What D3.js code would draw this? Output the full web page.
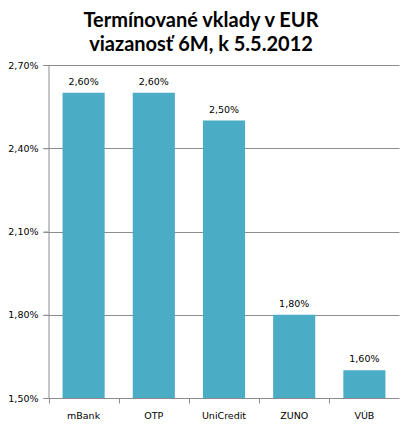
<!DOCTYPE html>
<html><head><meta charset="utf-8">
<script src="https://cdn.jsdelivr.net/npm/d3@7"></script>
<style>body{margin:0;background:#fff}svg{display:block}</style>
</head><body>
<script>
const categories = ["mBank", "OTP", "UniCredit", "ZUNO", "VÚB"];
const values = [2.60, 2.60, 2.50, 1.80, 1.60];
const yTicks = [1.50, 1.80, 2.10, 2.40, 2.70];
const titleLines = ["Termínované vklady v EUR", "viazanosť 6M, k 5.5.2012"];

const W = 400, H = 427;
const m = {left: 48.5, right: 0.5, top: 65, bottom: 29};
const svg = d3.select("body").append("svg").attr("width", W).attr("height", H);
const fmt = v => v.toFixed(2).replace(".", ",") + "%";

const x = d3.scaleBand().domain(categories).range([m.left, W - m.right]).paddingInner(0.4).paddingOuter(0.2);
const y = d3.scaleLinear().domain([1.5, 2.7]).range([H - m.bottom, m.top]);

svg.append("g").attr("font-family", "Lato, 'Open Sans', sans-serif").attr("font-weight", "bold")
  .attr("font-size", 20).attr("text-anchor", "middle")
  .selectAll("text").data(titleLines).join("text")
  .attr("x", 201).attr("y", (d, i) => 27 + i * 24).text(d => d);

// gridlines
svg.append("g").selectAll("line").data(yTicks.slice(1)).join("line")
  .attr("x1", m.left - 5).attr("x2", W - m.right)
  .attr("y1", d => Math.round(y(d)) + 0.5).attr("y2", d => Math.round(y(d)) + 0.5)
  .attr("stroke", "#8c8c8c").attr("stroke-width", 1);

// bars
svg.append("g").selectAll("rect").data(values).join("rect")
  .attr("x", (d, i) => x(categories[i])).attr("width", x.bandwidth())
  .attr("y", d => y(d)).attr("height", d => y(1.5) - y(d))
  .attr("fill", "#4bacc6");

// y axis
const ya = d3.axisLeft(y).tickValues(yTicks).tickFormat(fmt).tickSize(5).tickPadding(5);
const gy = svg.append("g").attr("transform", `translate(${m.left},0)`).call(ya);
gy.selectAll("line,path").attr("stroke", "#8c8c8c");
gy.selectAll("text").attr("font-family", "'DejaVu Sans', sans-serif").attr("font-size", 9.5).attr("fill", "#000");

// x axis
const ticksX = categories.map((c, i) => m.left + i * (W - m.right - m.left) / categories.length);
const gx = svg.append("g").attr("transform", `translate(0,${Math.round(y(1.5)) + 0.5})`);
gx.append("line").attr("x1", m.left).attr("x2", W - m.right).attr("stroke", "#8c8c8c");
gx.selectAll("line.t").data(ticksX.concat([W - m.right])).join("line").attr("class", "t")
  .attr("x1", d => Math.round(d) + 0.5).attr("x2", d => Math.round(d) + 0.5).attr("y1", 0).attr("y2", 5)
  .attr("stroke", "#8c8c8c");
gx.selectAll("text").data(categories).join("text")
  .attr("x", d => x(d) + x.bandwidth() / 2).attr("y", 20)
  .attr("text-anchor", "middle").attr("font-family", "'DejaVu Sans', sans-serif").attr("font-size", 9.5)
  .text(d => d);

// value labels
svg.append("g").selectAll("text").data(values).join("text")
  .attr("x", (d, i) => x(categories[i]) + x.bandwidth() / 2).attr("y", d => y(d) - 8)
  .attr("text-anchor", "middle").attr("font-family", "'DejaVu Sans', sans-serif").attr("font-size", 9.5)
  .text(fmt);
</script>
</body></html>
